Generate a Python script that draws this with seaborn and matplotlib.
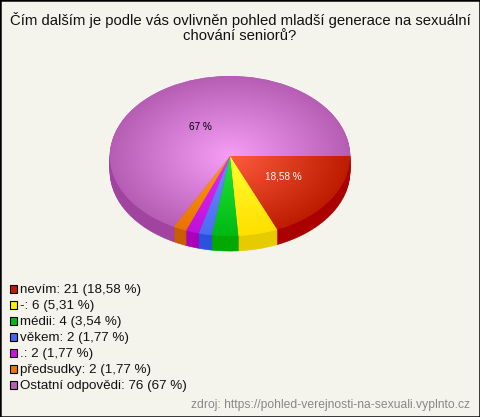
import numpy as np
import matplotlib
matplotlib.use("Agg")
import matplotlib.pyplot as plt
from matplotlib.patches import Rectangle
import seaborn as sns

#DATA
categories = ["nevím", "-", "médii", "věkem", ".", "předsudky", "Ostatní odpovědi"]
counts = [21, 6, 4, 2, 2, 2, 76]
percents = ["18,58 %", "5,31 %", "3,54 %", "1,77 %", "1,77 %", "1,77 %", "67 %"]
shown_labels = {0: "white", 6: "black"}
title_lines = ["Čím dalším je podle vás ovlivněn pohled mladší generace na sexuální", "chování seniorů?"]

center_colors = ["#ff5c3e", "#ffff30", "#22e636", "#6c8eff", "#e82cf5", "#ff9c14", "#f69ef6"]
rim_colors = ["#bd1c00", "#ffdf00", "#00b914", "#4a6cf0", "#c010dc", "#ea7400", "#b65eb4"]
side_colors = ["#aa0000", "#e6cb00", "#00a800", "#2a52de", "#aa00bb", "#c85c00", "#a044a0"]
legend_colors = ["#c01c00", "#ffee00", "#00bb10", "#4466ee", "#cc10dd", "#ee7700", "#b860b0"]

W, H = 480, 417
BG = "#f5f4ec"
CX, CY, RX, RY, DEPTH = 230, 156, 120, 80, 15

sns.set_style("white")
plt.rcParams["font.family"] = ["Liberation Sans", "DejaVu Sans"]

fig = plt.figure(figsize=(W / 100, H / 100), dpi=100, facecolor=BG)
ax = fig.add_axes([0, 0, 1, 1], facecolor=BG)

#side of the pie, stacked copies from the bottom up
for d in np.arange(DEPTH, 0, -1):
    wedges, _ = ax.pie(counts, colors=side_colors, startangle=0, counterclock=False,
                       center=(0, -d / RY), radius=1, normalize=True)
    for w in wedges:
        w.set_edgecolor(w.get_facecolor())
        w.set_linewidth(0.5)
        w.set_zorder(1)

#top of the pie, each slice filled with a radial gradient
wedges, _ = ax.pie(counts, colors=rim_colors, startangle=0, counterclock=False, radius=1, normalize=True)
gx, gy = np.meshgrid(np.linspace(-1, 1, 500), np.linspace(-1, 1, 500))
dist = np.clip(np.sqrt(gx ** 2 + gy ** 2), 0, 1)
for i, w in enumerate(wedges):
    w.set_zorder(2)
    w.set_edgecolor("none")
    w.set_linewidth(0)
    cmap = sns.blend_palette([center_colors[i], rim_colors[i]], as_cmap=True)
    im = ax.imshow(dist, cmap=cmap, vmin=0, vmax=1, extent=(-1, 1, -1, 1), origin="lower",
                   aspect="auto", zorder=3, interpolation="bilinear")
    im.set_clip_path(w)

ax.set_aspect("auto")
ax.set_xlim((0 - CX) / RX, (W - CX) / RX)
ax.set_ylim((CY - H) / RY, CY / RY)
ax.axis("off")


def px(x, y):
    return x / W, 1 - y / H


#percent labels on the two big slices
total = sum(counts)
angle = 0
for i, c in enumerate(counts):
    mid = np.radians(angle + c / total * 180)
    angle += c / total * 360
    if i in shown_labels:
        ax.text(0.47 * np.cos(mid) * (1.0 if i == 6 else 1.13), -0.47 * np.sin(mid) * (0.9 if i == 6 else 1),
                percents[i], color=shown_labels[i], fontsize=7.2,
                ha="center", va="center", zorder=5)

#title
for i, line in enumerate(title_lines):
    fig.text(*px(240, 25 + 15 * i), line, ha="center", va="baseline", fontsize=10.68, color="#111111")

#legend
for i, name in enumerate(categories):
    y = 289 + 16 * i
    x0, y0 = px(9.5, y + 3.5)
    fig.add_artist(Rectangle((x0, y0), 7.5 / W, 7.5 / H, transform=fig.transFigure,
                             facecolor=legend_colors[i], edgecolor="black", linewidth=0.8))
    fig.text(*px(20, y + 4), f"{name}: {counts[i]} ({percents[i]})", ha="left", va="baseline",
             fontsize=9.63, color="#111111")

#source
fig.text(*px(470, 408), "zdroj: https://pohled-verejnosti-na-sexuali.vyplnto.cz", ha="right", va="baseline",
         fontsize=8.7, color="#888888")

#frame
fig.add_artist(Rectangle((0, 0), 1, 1, transform=fig.transFigure, fill=False, edgecolor="black", linewidth=1.8))

fig.savefig("out.png", dpi=100, facecolor=BG)
